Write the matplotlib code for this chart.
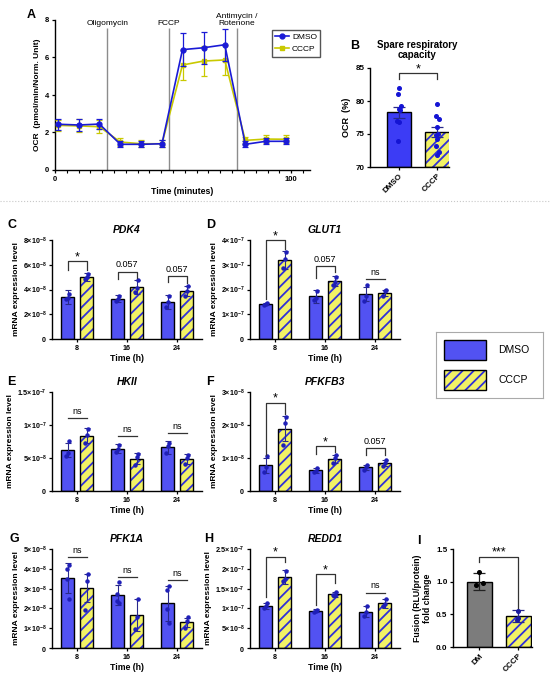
import numpy as np
import matplotlib
matplotlib.use('Agg')
import matplotlib.pyplot as plt
from matplotlib.patches import Rectangle
from matplotlib.lines import Line2D
from matplotlib.ticker import FuncFormatter, MultipleLocator

plt.rcParams['font.family'] = ['Liberation Sans', 'DejaVu Sans']
plt.rcParams['mathtext.fontset'] = 'custom'
plt.rcParams['mathtext.rm'] = 'Liberation Sans'
plt.rcParams['mathtext.bf'] = 'Liberation Sans:bold'
plt.rcParams['mathtext.it'] = 'Liberation Sans:italic'
plt.rcParams['hatch.linewidth'] = 1.3
plt.rcParams['axes.linewidth'] = 1.0

# ---------------- DATA ----------------
# Panel A: OCR time course
ocr_time = [1.4, 10.1, 18.8, 27.7, 36.6, 45.3, 54.0, 62.9, 71.9, 80.6, 89.3, 98.0]
ocr_dmso = [2.44, 2.40, 2.45, 1.37, 1.37, 1.40, 6.42, 6.52, 6.68, 1.37, 1.53, 1.53]
ocr_dmso_err = [0.30, 0.30, 0.28, 0.15, 0.15, 0.20, 0.90, 0.85, 0.85, 0.15, 0.15, 0.15]
ocr_cccp = [2.38, 2.35, 2.31, 1.49, 1.40, 1.40, 5.60, 5.81, 5.87, 1.58, 1.65, 1.64]
ocr_cccp_err = [0.30, 0.35, 0.35, 0.20, 0.20, 0.20, 0.80, 0.80, 0.80, 0.18, 0.20, 0.20]
injection_times = [22.1, 48.1, 76.9]
injection_labels = ['Oligomycin', 'FCCP', 'Antimycin /\nRotenone']

# Panel B: spare respiratory capacity
spare_groups = ['DMSO', 'CCCP']
spare_mean = [78.3, 75.3]
spare_sem = [0.85, 0.80]
spare_dmso_pts = [82.0, 81.0, 79.3, 78.8, 78.6, 77.0, 76.8, 74.0]
spare_cccp_pts = [79.5, 77.7, 77.2, 76.1, 75.0, 74.8, 74.3, 73.2, 72.3, 71.8]

# Gene panels
times = ['8', '16', '24']

pdk4_dmso = [3.40e-8, 3.25e-8, 3.00e-8]
pdk4_dmso_sd = [0.55e-8, 0.30e-8, 0.55e-8]
pdk4_cccp = [5.00e-8, 4.20e-8, 3.85e-8]
pdk4_cccp_sd = [0.30e-8, 0.60e-8, 0.40e-8]
pdk4_dmso_pts = [[3.65e-8, 3.30e-8, 3.20e-8], [3.45e-8, 3.20e-8, 3.10e-8], [3.50e-8, 3.00e-8, 2.60e-8]]
pdk4_cccp_pts = [[5.25e-8, 5.00e-8, 4.85e-8], [4.75e-8, 4.10e-8, 3.80e-8], [4.25e-8, 3.85e-8, 3.50e-8]]
pdk4_yticks = [0, 2e-8, 4e-8, 6e-8, 8e-8]
pdk4_sig = [('*', 6.3e-8, 5.55e-8, 5.55e-8), ('0.057', 5.45e-8, 4.85e-8, 4.9e-8), ('0.057', 5.1e-8, 4.6e-8, 4.55e-8)]

glut1_dmso = [1.41e-7, 1.72e-7, 1.81e-7]
glut1_dmso_sd = [0.03e-7, 0.25e-7, 0.28e-7]
glut1_cccp = [3.19e-7, 2.34e-7, 1.86e-7]
glut1_cccp_sd = [0.35e-7, 0.20e-7, 0.14e-7]
glut1_dmso_pts = [[1.44e-7, 1.41e-7, 1.39e-7], [1.95e-7, 1.65e-7, 1.56e-7], [2.20e-7, 1.72e-7, 1.55e-7]]
glut1_cccp_pts = [[3.50e-7, 3.25e-7, 2.85e-7], [2.50e-7, 2.30e-7, 2.20e-7], [1.98e-7, 1.95e-7, 1.72e-7]]
glut1_yticks = [0, 1e-7, 2e-7, 3e-7, 4e-7]
glut1_sig = [('*', 4.0e-7, 1.6e-7, 3.65e-7), ('0.057', 2.95e-7, 2.45e-7, 2.7e-7), ('ns', 2.43e-7, None, None)]

hk2_dmso = [6.2e-8, 6.4e-8, 6.6e-8]
hk2_dmso_sd = [1.1e-8, 0.7e-8, 1.0e-8]
hk2_cccp = [8.4e-8, 4.9e-8, 4.85e-8]
hk2_cccp_sd = [1.2e-8, 0.8e-8, 0.75e-8]
hk2_dmso_pts = [[7.6e-8, 5.7e-8, 5.3e-8], [7.0e-8, 6.3e-8, 5.9e-8], [7.3e-8, 6.8e-8, 5.7e-8]]
hk2_cccp_pts = [[9.4e-8, 8.5e-8, 7.3e-8], [5.6e-8, 5.2e-8, 3.9e-8], [5.5e-8, 5.0e-8, 4.1e-8]]
hk2_yticks = [0, 5e-8, 1e-7, 1.5e-7]
hk2_sig = [('ns', 11.0e-8, None, None), ('ns', 8.3e-8, None, None), ('ns', 8.8e-8, None, None)]

pfkfb3_dmso = [0.78e-8, 0.63e-8, 0.72e-8]
pfkfb3_dmso_sd = [0.22e-8, 0.07e-8, 0.08e-8]
pfkfb3_cccp = [1.89e-8, 0.97e-8, 0.86e-8]
pfkfb3_cccp_sd = [0.38e-8, 0.12e-8, 0.09e-8]
pfkfb3_dmso_pts = [[1.05e-8, 0.72e-8, 0.58e-8], [0.70e-8, 0.62e-8, 0.57e-8], [0.80e-8, 0.72e-8, 0.65e-8]]
pfkfb3_cccp_pts = [[2.25e-8, 2.05e-8, 1.40e-8], [1.08e-8, 1.00e-8, 0.84e-8], [0.95e-8, 0.86e-8, 0.77e-8]]
pfkfb3_yticks = [0, 1e-8, 2e-8, 3e-8]
pfkfb3_sig = [('*', 2.68e-8, 1.08e-8, 2.34e-8), ('*', 1.35e-8, 1.13e-8, 1.18e-8), ('0.057', 1.31e-8, 1.1e-8, 1.1e-8)]

pfk1a_dmso = [3.52e-8, 2.67e-8, 2.26e-8]
pfk1a_dmso_sd = [0.75e-8, 0.50e-8, 0.88e-8]
pfk1a_cccp = [3.02e-8, 1.66e-8, 1.29e-8]
pfk1a_cccp_sd = [0.72e-8, 0.80e-8, 0.25e-8]
pfk1a_dmso_pts = [[4.2e-8, 4.0e-8, 3.5e-8, 2.5e-8], [3.35e-8, 2.75e-8, 2.35e-8, 2.25e-8], [3.15e-8, 2.95e-8, 1.95e-8, 1.25e-8]]
pfk1a_cccp_pts = [[3.75e-8, 3.4e-8, 1.9e-8], [2.45e-8, 1.55e-8, 0.98e-8], [1.55e-8, 1.35e-8, 1.0e-8]]
pfk1a_yticks = [0, 1e-8, 2e-8, 3e-8, 4e-8, 5e-8]
pfk1a_sig = [('ns', 4.6e-8, None, None), ('ns', 3.6e-8, None, None), ('ns', 3.44e-8, None, None)]

redd1_dmso = [1.06e-7, 0.94e-7, 0.92e-7]
redd1_dmso_sd = [0.07e-7, 0.04e-7, 0.14e-7]
redd1_cccp = [1.80e-7, 1.36e-7, 1.13e-7]
redd1_cccp_sd = [0.18e-7, 0.06e-7, 0.12e-7]
redd1_dmso_pts = [[1.13e-7, 1.05e-7, 1.0e-7], [0.97e-7, 0.93e-7, 0.92e-7], [1.05e-7, 0.9e-7, 0.82e-7]]
redd1_cccp_pts = [[1.95e-7, 1.75e-7, 1.7e-7], [1.41e-7, 1.35e-7, 1.33e-7], [1.24e-7, 1.1e-7, 1.05e-7]]
redd1_yticks = [0, 0.5e-7, 1e-7, 1.5e-7, 2e-7, 2.5e-7]
redd1_sig = [('*', 2.31e-7, 1.3e-7, 2.16e-7), ('*', 1.86e-7, 1.08e-7, 1.65e-7), ('ns', 1.4e-7, None, None)]

# Panel I: fusion
fusion_groups = ['DM', 'CCCP']
fusion_mean = [1.00, 0.47]
fusion_sd = [0.13, 0.09]
fusion_dm_pts = [1.15, 0.98, 0.95]
fusion_cccp_pts = [0.55, 0.45, 0.41]

# ---------------- STYLE ----------------
W, H = 550, 681
fig = plt.figure(figsize=(W / 100, H / 100), dpi=100)

DMSO_FILL = '#5252F2'
STRIPE = '#3030D8'
YELLOW = '#F2F266'
PT = '#1F1FB8'
ERR = '#2A2A8A'
LINE_BLUE = '#1A1AD6'
LINE_YEL = '#C9C900'


def fax(x0, y0, x1, y1):
    return fig.add_axes([x0 / W, 1 - y1 / H, (x1 - x0) / W, (y1 - y0) / H])


def style(ax, fs=5.5):
    for s in ['top', 'right']:
        ax.spines[s].set_visible(False)
    ax.tick_params(length=2.5, width=0.9, labelsize=fs, pad=1.5)
    for lab in ax.get_xticklabels() + ax.get_yticklabels():
        lab.set_fontweight('bold')


def hbar(ax, x, h, w, bottom=0, z=2):
    ax.bar(x, h, w, bottom=bottom, color=YELLOW, edgecolor=STRIPE, hatch='///', linewidth=0, zorder=z)
    ax.bar(x, h, w, bottom=bottom, fill=False, edgecolor='black', linewidth=1.0, zorder=z + 0.1)


def sci(v, pos):
    if v == 0:
        return r'$\mathbf{0}$'
    e = int(np.floor(np.log10(v) + 1e-9))
    m = round(v / 10 ** e, 2)
    return r'$\mathbf{%s{\times}10^{%d}}$' % ('%g' % m, e)


def sig_mark(ax, x0, x1, top, yl, yr, text, fs_star=9, fs_txt=6.5):
    if yl is None:
        ax.plot([x0, x1], [top, top], color='#333333', lw=0.9, clip_on=False, zorder=6)
    else:
        ax.plot([x0, x0, x1, x1], [yl, top, top, yr], color='#333333', lw=0.9, clip_on=False, zorder=6)
    if text.startswith('*'):
        ax.annotate(text, (0.5 * (x0 + x1), top), xytext=(0, -1.5), textcoords='offset points',
                    ha='center', va='bottom', fontsize=fs_star, annotation_clip=False)
    else:
        ax.annotate(text, (0.5 * (x0 + x1), top), xytext=(0, 1.5), textcoords='offset points',
                    ha='center', va='bottom', fontsize=fs_txt, annotation_clip=False)


def gene_panel(box, title, dmso, dmso_sd, dmso_pts, cccp, cccp_sd, cccp_pts, yticks, sig):
    ax = fax(*box)
    x = np.arange(len(times))
    off, w = 0.19, 0.25
    ax.bar(x - off, dmso, w, color=DMSO_FILL, edgecolor='black', linewidth=1.0, zorder=2)
    hbar(ax, x + off, cccp, w)
    ax.errorbar(x - off, dmso, yerr=dmso_sd, fmt='none', ecolor=ERR, elinewidth=0.8,
                capsize=2.2, capthick=0.8, zorder=4)
    ax.errorbar(x + off, cccp, yerr=cccp_sd, fmt='none', ecolor=ERR, elinewidth=0.8,
                capsize=2.2, capthick=0.8, zorder=4)
    for i in range(len(times)):
        for base, pts in ((x[i] - off, dmso_pts[i]), (x[i] + off, cccp_pts[i])):
            n = len(pts)
            xs = base + np.linspace(-0.035, 0.035, n)[::-1] * np.array([1 if k % 2 == 0 else -1 for k in range(n)])
            ax.plot(xs, pts, 'o', ms=2.2, color=PT, zorder=5, clip_on=False)
    for i, (txt, top, yl, yr) in enumerate(sig):
        sig_mark(ax, x[i] - off, x[i] + off, top, yl, yr, txt)
    ax.set_xlim(-0.5, 2.5)
    ax.set_ylim(0, yticks[-1])
    ax.set_yticks(yticks)
    ax.yaxis.set_major_formatter(FuncFormatter(sci))
    ax.set_xticks(x)
    ax.set_xticklabels(times)
    ax.set_xlabel('Time (h)', fontweight='bold', fontsize=6.3, labelpad=2)
    ax.set_ylabel('mRNA expression level', fontweight='bold', fontsize=6, labelpad=2)
    ax.set_title(title, style='italic', fontweight='bold', fontsize=7.5, pad=5)
    style(ax, fs=5.1)
    return ax


# ---------------- PANEL A ----------------
axA = fax(55, 20, 310, 170)
axA.vlines(injection_times, 0, 7.55, color='#8C8C8C', lw=1.0, zorder=1)
for t, lab in zip(injection_times, injection_labels):
    axA.text(t, 7.62, lab, ha='center', va='bottom', fontsize=6, linespacing=1.1)
axA.errorbar(ocr_time, ocr_cccp, yerr=ocr_cccp_err, color=LINE_YEL, marker='s', ms=3.2, lw=1.2,
             elinewidth=0.9, capsize=2.5, capthick=0.9, zorder=3)
axA.errorbar(ocr_time, ocr_dmso, yerr=ocr_dmso_err, color=LINE_BLUE, marker='o', ms=3.5, lw=1.2,
             elinewidth=0.9, capsize=2.5, capthick=0.9, zorder=4)
axA.set_xlim(0, 108)
axA.set_ylim(0, 8)
axA.set_yticks([0, 2, 4, 6, 8])
axA.set_xticks([0, 100])
axA.xaxis.set_minor_locator(MultipleLocator(5))
axA.tick_params(which='minor', length=1.8, width=0.8)
axA.set_xlabel('Time (minutes)', fontweight='bold', fontsize=6.3, labelpad=3)
axA.set_ylabel('OCR  (pmol/min/Norm. Unit)', fontweight='bold', fontsize=6, labelpad=3)
style(axA, fs=5.5)
hA = [Line2D([], [], color=LINE_BLUE, marker='o', ms=3.5, lw=1.2),
      Line2D([], [], color=LINE_YEL, marker='s', ms=3.2, lw=1.2)]
axA.legend(hA, ['DMSO', 'CCCP'], loc='upper left', bbox_to_anchor=(0.851, 0.933), fontsize=6,
           frameon=True, fancybox=False, edgecolor='#555555', handlelength=1.6, borderpad=0.4,
           labelspacing=0.5, handletextpad=0.4, borderaxespad=0, framealpha=1)

# ---------------- PANEL B ----------------
axB = fax(370, 68, 449, 167)
xb = np.arange(2)
axB.bar(xb[0], spare_mean[0] - 70, 0.63, bottom=70, color='#3C3CF5', edgecolor='black', linewidth=1.0, zorder=2)
hbar(axB, xb[1], spare_mean[1] - 70, 0.63, bottom=70)
axB.errorbar(xb, spare_mean, yerr=spare_sem, fmt='none', ecolor=ERR, elinewidth=0.9,
             capsize=4, capthick=0.9, zorder=4)
for base, pts in ((xb[0], spare_dmso_pts), (xb[1], spare_cccp_pts)):
    n = len(pts)
    xs = base + np.array([(-1) ** k * 0.05 * ((k % 3) / 2) for k in range(n)])
    axB.plot(xs, pts, 'o', ms=2.6, color='#1414D4', zorder=5, clip_on=False)
sig_mark(axB, xb[0], xb[1], 84.2, 83.4, 83.4, '*')
axB.set_xlim(-0.75, 1.3)
axB.set_ylim(70, 85)
axB.set_yticks([70, 75, 80, 85])
axB.set_xticks(xb)
axB.set_xticklabels(spare_groups, rotation=45, ha='right', rotation_mode='anchor')
axB.set_ylabel('OCR  (%)', fontweight='bold', fontsize=6.5, labelpad=3)
style(axB, fs=5.8)
fig.text(417 / W, 1 - 50 / H, 'Spare respiratory\ncapacity', ha='center', va='center',
         fontsize=7, fontweight='bold', linespacing=1.1)

# ---------------- GENE PANELS ----------------
gene_panel((52, 240, 202, 339), 'PDK4', pdk4_dmso, pdk4_dmso_sd, pdk4_dmso_pts,
           pdk4_cccp, pdk4_cccp_sd, pdk4_cccp_pts, pdk4_yticks, pdk4_sig)
gene_panel((250, 240, 400, 339), 'GLUT1', glut1_dmso, glut1_dmso_sd, glut1_dmso_pts,
           glut1_cccp, glut1_cccp_sd, glut1_cccp_pts, glut1_yticks, glut1_sig)
gene_panel((52, 392, 202, 491), 'HKII', hk2_dmso, hk2_dmso_sd, hk2_dmso_pts,
           hk2_cccp, hk2_cccp_sd, hk2_cccp_pts, hk2_yticks, hk2_sig)
gene_panel((250, 392, 400, 491), 'PFKFB3', pfkfb3_dmso, pfkfb3_dmso_sd, pfkfb3_dmso_pts,
           pfkfb3_cccp, pfkfb3_cccp_sd, pfkfb3_cccp_pts, pfkfb3_yticks, pfkfb3_sig)
gene_panel((52, 549, 202, 648), 'PFK1A', pfk1a_dmso, pfk1a_dmso_sd, pfk1a_dmso_pts,
           pfk1a_cccp, pfk1a_cccp_sd, pfk1a_cccp_pts, pfk1a_yticks, pfk1a_sig)
gene_panel((250, 549, 400, 648), 'REDD1', redd1_dmso, redd1_dmso_sd, redd1_dmso_pts,
           redd1_cccp, redd1_cccp_sd, redd1_cccp_pts, redd1_yticks, redd1_sig)

# ---------------- PANEL I ----------------
axI = fax(453, 549, 532, 647)
xi = np.arange(2)
axI.bar(xi[0], fusion_mean[0], 0.63, color='#7C7C7C', edgecolor='black', linewidth=1.0, zorder=2)
hbar(axI, xi[1], fusion_mean[1], 0.63)
axI.errorbar(xi[0], fusion_mean[0], yerr=fusion_sd[0], fmt='none', ecolor='#222222', elinewidth=0.9,
             capsize=4, capthick=0.9, zorder=4)
axI.errorbar(xi[1], fusion_mean[1], yerr=fusion_sd[1], fmt='none', ecolor=ERR, elinewidth=0.9,
             capsize=4, capthick=0.9, zorder=4)
axI.plot(xi[0] + np.array([0.0, 0.08, -0.08]), fusion_dm_pts, 'o', ms=2.6, color='black', zorder=5)
axI.plot(xi[1] + np.array([0.0, 0.0, -0.03]), fusion_cccp_pts, 'o', ms=2.6, color='#1A1A9E', zorder=5)
sig_mark(axI, xi[0], xi[1], 1.38, 1.3, 0.6, '***')
axI.set_xlim(-0.68, 1.35)
axI.set_ylim(0, 1.5)
axI.set_yticks([0, 0.5, 1.0, 1.5])
axI.set_yticklabels(['0.0', '0.5', '1.0', '1.5'])
axI.set_xticks(xi)
axI.set_xticklabels(fusion_groups, rotation=45, ha='right', rotation_mode='anchor')
axI.set_ylabel('Fusion (RLU/protein)\nfold change', fontweight='bold', fontsize=6.3, labelpad=3,
               linespacing=1.1)
style(axI, fs=5.8)

# ---------------- LEGEND (genes) ----------------
axL = fax(436, 332, 543, 398)
axL.set_xlim(0, 1)
axL.set_ylim(0, 1)
axL.set_xticks([])
axL.set_yticks([])
for s in axL.spines.values():
    s.set_color('#AAAAAA')
    s.set_linewidth(0.8)
axL.add_patch(Rectangle((0.075, 0.576), 0.392, 0.303, facecolor=DMSO_FILL, edgecolor='black', lw=1.0))
axL.add_patch(Rectangle((0.075, 0.121), 0.392, 0.303, facecolor=YELLOW, edgecolor=STRIPE, hatch='///', lw=0))
axL.add_patch(Rectangle((0.075, 0.121), 0.392, 0.303, fill=False, edgecolor='black', lw=1.0))
axL.text(0.58, 0.727, 'DMSO', ha='left', va='center', fontsize=7.5)
axL.text(0.58, 0.273, 'CCCP', ha='left', va='center', fontsize=7.5)

# ---------------- LETTERS & SEPARATOR ----------------
letters = {'A': (27, 15), 'B': (350, 46), 'C': (8, 225), 'D': (206, 225), 'E': (7, 382),
           'F': (206, 382), 'G': (10, 539), 'H': (204, 539), 'I': (417, 541)}
for k, (px, py) in letters.items():
    fig.text(px / W, 1 - py / H, k, ha='left', va='center', fontsize=9, fontweight='bold')
fig.add_artist(Line2D([0.0, 1.0], [1 - 201 / H] * 2, transform=fig.transFigure, ls=':',
                      color='#C8C8C8', lw=0.8))

fig.savefig('out.png', dpi=100)
